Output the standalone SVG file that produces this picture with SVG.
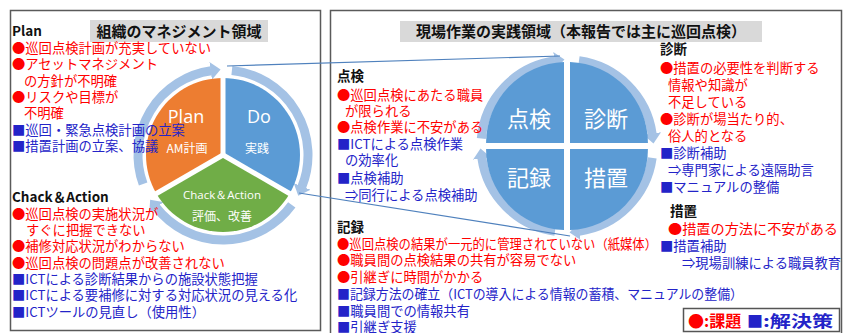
<svg xmlns="http://www.w3.org/2000/svg" width="852" height="333" viewBox="0 0 852 333">
<defs>
<style>
text{font-family:"Noto Sans CJK JP","Noto Sans",sans-serif;}
.t{font-size:13.3px;}
.r{fill:#ff0000;}
.b{fill:#2323c8;}
.h{font-size:13.5px;font-weight:bold;fill:#111;}
.ttl{font-size:15px;font-weight:bold;fill:#111;text-anchor:middle;}
.w{fill:#fff;text-anchor:middle;}
.panel{fill:#fff;stroke:#5a5a5a;stroke-width:1.5;}
.tbox{fill:#d9d9d9;}
.ring{fill:none;stroke:#a4c2e5;stroke-width:9;marker-end:url(#ah);}
.conn{fill:none;stroke:#4f81bd;stroke-width:1.2;}
.sep{stroke:#fff;stroke-width:5;}
</style>
<marker id="ah" markerUnits="userSpaceOnUse" markerWidth="12" markerHeight="18" refX="0.5" refY="9" orient="auto">
<path d="M0,0 L10,9 L0,18 Z" fill="#a4c2e5"/>
</marker>
</defs>

<g id="panel-left">
<rect class="panel" x="10.5" y="10.5" width="310" height="320"/>
<rect class="tbox" x="90" y="20" width="178" height="22"/>
<text class="ttl" x="179" y="37">組織のマネジメント領域</text>
</g>
<g id="panel-right">
<rect class="panel" x="330.5" y="10.5" width="511" height="330"/>
<rect class="tbox" x="400" y="21" width="362" height="21"/>
<text class="ttl" x="581" y="37">現場作業の実践領域（本報告では主に巡回点検）</text>
</g>

<g id="pdca-ring">
<path class="ring" d="M143.13,184.07 A85,85 0 0 1 211.17,70.83"/>
<path class="ring" d="M231.89,70.47 A85,85 0 0 1 301.81,186.84"/>
<path class="ring" d="M291.77,204.96 A85,85 0 0 1 156.02,207.33"/>
</g>
<g id="node-plan">
<path d="M223,155 L156.32,193.5 A77,77 0 0 1 223,78 Z" fill="#ed7d31"/>
<text class="w" x="186" y="123" style="font-family:'Open Sans','Noto Sans',sans-serif;font-size:18px">Plan</text>
<text class="w" x="187" y="153" style="font-size:12px">AM計画</text>
</g>
<g id="node-do">
<path d="M223,155 L223,78 A77,77 0 0 1 289.68,193.5 Z" fill="#5b9bd5"/>
<text class="w" x="259" y="123" style="font-family:'Open Sans','Noto Sans',sans-serif;font-size:18px">Do</text>
<text class="w" x="257" y="153" style="font-size:12px">実践</text>
</g>
<g id="node-ca">
<path d="M223,155 L289.68,193.5 A77,77 0 0 1 156.32,193.5 Z" fill="#70ad47"/>
<text class="w" x="222" y="199" style="font-family:'Open Sans','Noto Sans',sans-serif;font-size:11.5px">Chack＆Action</text>
<text class="w" x="222" y="221" style="font-size:12px">評価、改善</text>
</g>
<g id="pdca-sep">
<line class="sep" x1="223" y1="155" x2="223" y2="74"/>
<line class="sep" x1="223" y1="155" x2="293" y2="195.5"/>
<line class="sep" x1="223" y1="155" x2="153" y2="195.5"/>
</g>

<g id="cycle-ring">
<path class="ring" d="M481.33,138.5 A86,86 0 0 1 555.03,60.83"/>
<path class="ring" d="M578.97,60.83 A86,86 0 0 1 652.17,134.03"/>
<path class="ring" d="M652.17,157.97 A86,86 0 0 1 578.97,231.17"/>
<path class="ring" d="M555.03,231.17 A86,86 0 0 1 481.83,157.97"/>
</g>
<g id="node-tenken">
<path d="M564,143 L564,62.06 A81,81 0 0 0 486.06,143 Z" fill="#5b9bd5"/>
<text class="w" x="529" y="127" style="font-size:22px">点検</text>
</g>
<g id="node-shindan">
<path d="M570,143 L570,62.06 A81,81 0 0 1 647.94,143 Z" fill="#5b9bd5"/>
<text class="w" x="606" y="127" style="font-size:22px">診断</text>
</g>
<g id="node-kiroku">
<path d="M564,149 L564,229.94 A81,81 0 0 1 486.06,149 Z" fill="#5b9bd5"/>
<text class="w" x="529" y="186" style="font-size:22px">記録</text>
</g>
<g id="node-sochi">
<path d="M570,149 L570,229.94 A81,81 0 0 0 647.94,149 Z" fill="#5b9bd5"/>
<text class="w" x="606" y="186" style="font-size:22px">措置</text>
</g>

<g id="connectors">
<line class="conn" x1="227" y1="66" x2="560" y2="56"/>
<line class="conn" x1="299" y1="193" x2="570" y2="236"/>
</g>

<g id="text-plan" class="t">
<text class="h" x="12" y="36">Plan</text>
<text class="r" x="12" y="53">●巡回点検計画が充実していない</text>
<text class="r" x="12" y="69">●アセットマネジメント</text>
<text class="r" x="24" y="86">の方針が不明確</text>
<text class="r" x="12" y="102">●リスクや目標が</text>
<text class="r" x="24" y="118">不明確</text>
<text class="b" x="12" y="135">■巡回・緊急点検計画の立案</text>
<text class="b" x="12" y="151">■措置計画の立案、協議</text>
</g>
<g id="text-ca" class="t">
<text class="h" x="12" y="202">Chack＆Action</text>
<text class="r" x="12" y="219">●巡回点検の実施状況が</text>
<text class="r" x="26" y="235">すぐに把握できない</text>
<text class="r" x="12" y="251">●補修対応状況がわからない</text>
<text class="r" x="12" y="268">●巡回点検の問題点が改善されない</text>
<text class="b" x="12" y="284">■ICTによる診断結果からの施設状態把握</text>
<text class="b" x="12" y="300">■ICTによる要補修に対する対応状況の見える化</text>
<text class="b" x="12" y="317">■ICTツールの見直し（使用性）</text>
</g>
<g id="text-tenken" class="t">
<text class="h" x="337" y="81">点検</text>
<text class="r" x="337" y="100">●巡回点検にあたる職員</text>
<text class="r" x="345" y="116">が限られる</text>
<text class="r" x="337" y="132">●点検作業に不安がある</text>
<text class="b" x="337" y="149">■ICTによる点検作業</text>
<text class="b" x="345" y="165">の効率化</text>
<text class="b" x="337" y="183">■点検補助</text>
<text class="b" x="345" y="200">⇒同行による点検補助</text>
</g>
<g id="text-kiroku" class="t">
<text class="h" x="337" y="232">記録</text>
<text class="r" x="337" y="249" textLength="320" lengthAdjust="spacingAndGlyphs">●巡回点検の結果が一元的に管理されていない（紙媒体）</text>
<text class="r" x="337" y="265">●職員間の点検結果の共有が容易でない</text>
<text class="r" x="337" y="282">●引継ぎに時間がかかる</text>
<text class="b" x="337" y="299" textLength="406" lengthAdjust="spacingAndGlyphs">■記録方法の確立（ICTの導入による情報の蓄積、マニュアルの整備）</text>
<text class="b" x="337" y="316">■職員間での情報共有</text>
<text class="b" x="337" y="332">■引継ぎ支援</text>
</g>
<g id="text-shindan" class="t">
<text class="h" x="660" y="54">診断</text>
<text class="r" x="660" y="73">●措置の必要性を判断する</text>
<text class="r" x="668" y="90">情報や知識が</text>
<text class="r" x="668" y="107">不足している</text>
<text class="r" x="660" y="124">●診断が場当たり的、</text>
<text class="r" x="668" y="141">俗人的となる</text>
<text class="b" x="660" y="158">■診断補助</text>
<text class="b" x="668" y="175">⇒専門家による遠隔助言</text>
<text class="b" x="660" y="192">■マニュアルの整備</text>
</g>
<g id="text-sochi" class="t">
<text class="h" x="670" y="216">措置</text>
<text class="r" x="668" y="234" textLength="170" lengthAdjust="spacingAndGlyphs">●措置の方法に不安がある</text>
<text class="b" x="660" y="251">■措置補助</text>
<text class="b" x="682" y="268">⇒現場訓練による職員教育</text>
</g>

<g id="legend">
<rect x="683.5" y="308.5" width="156" height="23" fill="#fff" stroke="#555" stroke-width="1.5"/>
<g style="font-size:16px;font-weight:bold">
<text x="688" y="327" fill="#ff0000">●</text>
<text x="704" y="327" fill="#ff0000">:課題</text>
<text x="747" y="327" fill="#2323c8">■</text>
<text x="763" y="327" fill="#2323c8" textLength="70" lengthAdjust="spacingAndGlyphs">:解決策</text>
</g>
</g>
</svg>
